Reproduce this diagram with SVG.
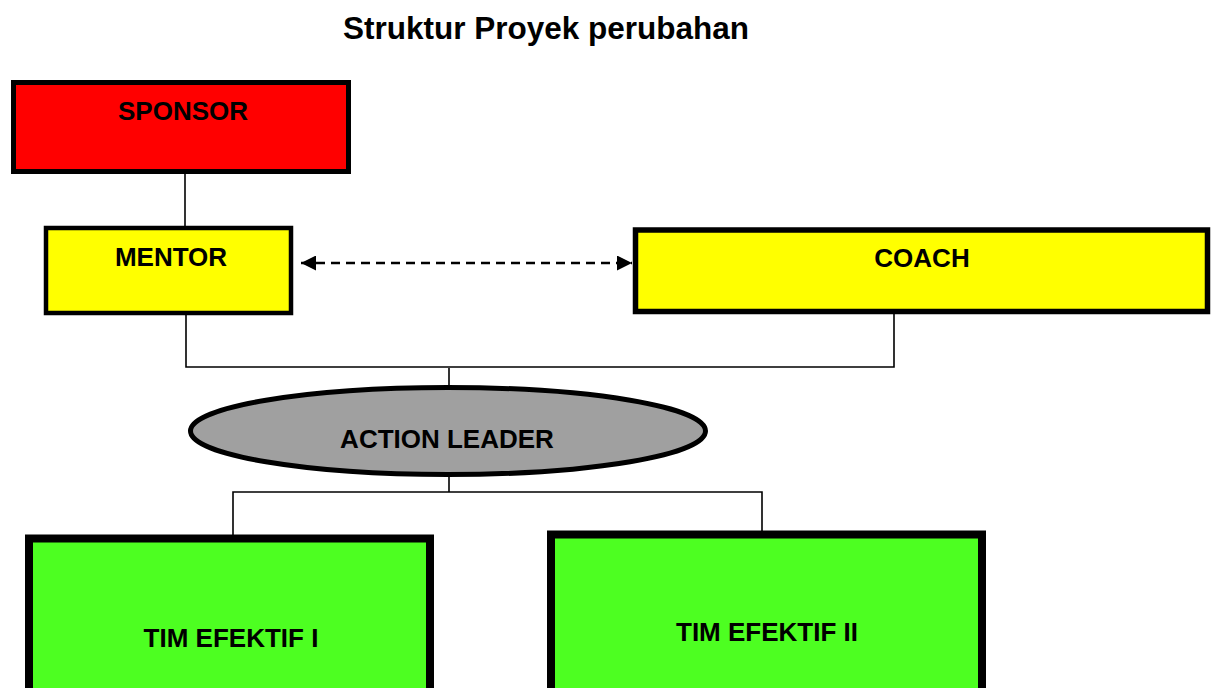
<svg xmlns="http://www.w3.org/2000/svg" width="1217" height="688" viewBox="0 0 1217 688">
<style>
  .lbl { font-family: "Liberation Sans", Arial, sans-serif; font-weight: bold; font-size: 26px; fill: #000; text-anchor: middle; }
  .title { font-family: "Liberation Sans", Arial, sans-serif; font-weight: bold; font-size: 31.5px; fill: #000; text-anchor: middle; }
  .conn { stroke: #000; stroke-width: 1.6; fill: none; }
  .dash { stroke: #000; stroke-width: 2.5; fill: none; stroke-dasharray: 9 6; }
</style>
<defs>
  <marker id="arr" viewBox="0 0 10 10" refX="10" refY="5" markerWidth="6" markerHeight="6" orient="auto-start-reverse" markerUnits="strokeWidth">
    <path d="M0,0 L10,5 L0,10 z" fill="#000"/>
  </marker>
</defs>
<rect width="1217" height="688" fill="#fff"/>
<text class="title" x="546" y="39">Struktur Proyek perubahan</text>
<g id="connectors">
  <line class="conn" x1="185" y1="174" x2="185" y2="226"/>
  <polyline class="conn" points="186,315 186,367 894,367 894,313"/>
  <line class="conn" x1="449" y1="368" x2="449" y2="386"/>
  <line class="conn" x1="449" y1="476" x2="449" y2="492"/>
  <polyline class="conn" points="233,536 233,492 762,492 762,531"/>
  <line class="dash" x1="301" y1="263" x2="632" y2="263" marker-start="url(#arr)" marker-end="url(#arr)"/>
</g>
<g id="sponsor">
  <rect x="13.5" y="82.5" width="335" height="89" fill="#FF0000" stroke="#000" stroke-width="5"/>
  <text class="lbl" x="183" y="120">SPONSOR</text>
</g>
<g id="mentor">
  <rect x="46" y="228" width="245" height="85" fill="#FFFF00" stroke="#000" stroke-width="4.5"/>
  <text class="lbl" x="171" y="266">MENTOR</text>
</g>
<g id="coach">
  <rect x="635.5" y="230" width="572" height="81.5" fill="#FFFF00" stroke="#000" stroke-width="5.5"/>
  <text class="lbl" x="922" y="267">COACH</text>
</g>
<g id="action-leader">
  <ellipse cx="448" cy="431" rx="257.5" ry="43.5" fill="#A0A0A0" stroke="#000" stroke-width="5"/>
  <text class="lbl" x="447" y="448">ACTION LEADER</text>
</g>
<g id="tim1">
  <rect x="29" y="538.5" width="401" height="200" fill="#4DFF21" stroke="#000" stroke-width="8"/>
  <text class="lbl" x="231" y="647">TIM EFEKTIF I</text>
</g>
<g id="tim2">
  <rect x="551" y="534.5" width="431" height="200" fill="#4DFF21" stroke="#000" stroke-width="8"/>
  <text class="lbl" x="767" y="641">TIM EFEKTIF II</text>
</g>
</svg>
